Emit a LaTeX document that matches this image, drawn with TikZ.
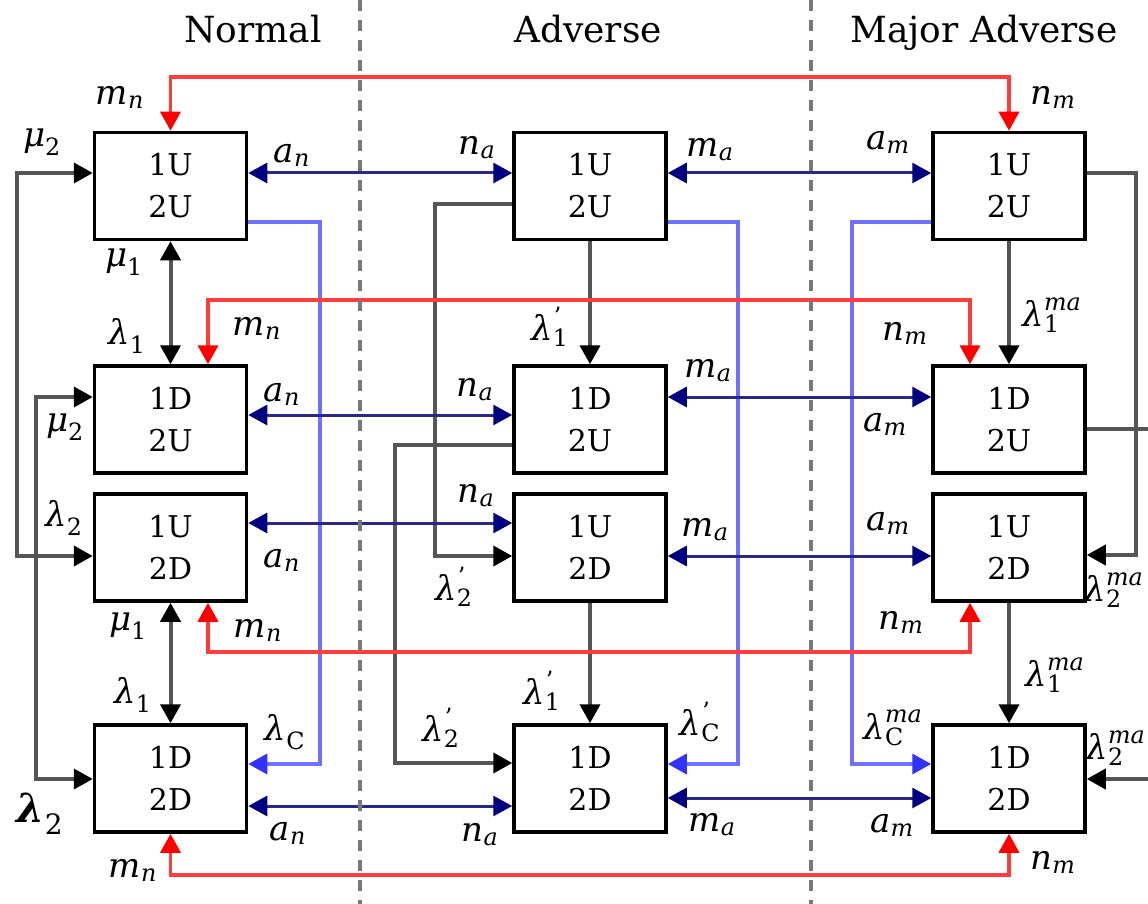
\documentclass[tikz,border=0pt]{standalone}
\usepackage{amsmath}
\usepackage{fontspec}
\setmainfont{DejaVu Serif}
\usetikzlibrary{arrows.meta}
\definecolor{cgray}{RGB}{85,85,85}
\definecolor{cnavy}{RGB}{40,40,140}
\definecolor{tnavy}{RGB}{0,0,128}
\definecolor{cred}{RGB}{255,60,60}
\definecolor{tred}{RGB}{255,0,0}
\definecolor{cblue}{RGB}{112,112,255}
\definecolor{tblue}{RGB}{50,50,255}
\definecolor{cdash}{RGB}{120,120,120}
\newcommand{\lsub}[2]{$\text{\itshape #1}_{\text{\itshape #2}}$}
\newcommand{\lsubu}[2]{$\text{\itshape #1}_{\text{#2}}$}
\newcommand{\lpr}[2]{$\text{\itshape #1}^{\text{\upshape\kern1pt'}}_{\text{#2}}$}
\newcommand{\lma}[2]{$\text{\itshape #1}^{\text{\itshape ma}}_{\text{#2}}$}
\tikzset{
  gt/.tip={Triangle[length=19pt,width=20pt,color=black]},
  nt/.tip={Triangle[length=19pt,width=20pt,color=tnavy]},
  rt/.tip={Triangle[length=19pt,width=20pt,color=tred]},
  bt/.tip={Triangle[length=19pt,width=20pt,color=tblue]},
  statebox/.style={draw, line width=3.5pt, minimum width=152pt, minimum height=107pt,
    inner sep=0pt, align=center, font=\fontsize{30}{42}\selectfont},
  lbl/.style={inner sep=0pt, font=\fontsize{34}{36}\selectfont},
  head/.style={inner sep=0pt, anchor=base, font=\fontsize{36}{40}\selectfont},
  gline/.style={draw=cgray, line width=4pt},
  nline/.style={draw=cnavy, line width=3pt},
  rline/.style={draw=cred, line width=3.5pt},
  bline/.style={draw=cblue, line width=3.5pt},
  dline/.style={draw=cdash, line width=3.5pt, dash pattern=on 11pt off 9pt},
}
\begin{document}
\begin{tikzpicture}[x=1pt,y=-1pt]
\useasboundingbox (0,0) rectangle (1148,904);
\fill[white] (0,0) rectangle (1148,904);
\clip (0,0) rectangle (1148,904);
% headers
\node[head] (hN) at (253,43) {Normal};
\node[head] (hA) at (588,43) {Adverse};
\node[head] (hM) at (984,43) {Major Adverse};
% boxes
\node[statebox] (b11) at (170.5,186) {1U\\2U};
\node[statebox] (b12) at (170.5,419.5) {1D\\2U};
\node[statebox] (b13) at (170.5,547.5) {1U\\2D};
\node[statebox] (b14) at (170.5,778.5) {1D\\2D};
\node[statebox] (b21) at (590,186) {1U\\2U};
\node[statebox] (b22) at (590,419.5) {1D\\2U};
\node[statebox] (b23) at (590,547.5) {1U\\2D};
\node[statebox] (b24) at (590,778.5) {1D\\2D};
\node[statebox] (b31) at (1009,186) {1U\\2U};
\node[statebox] (b32) at (1009,419.5) {1D\\2U};
\node[statebox] (b33) at (1009,547.5) {1U\\2D};
\node[statebox] (b34) at (1009,778.5) {1D\\2D};
% light blue
\draw[bline, -bt] (b11.east |- 0,222) -- (320,222) |- (b14.east |- 0,764);
\draw[bline, -bt] (b21.east |- 0,222) -- (738,222) |- (b24.east |- 0,764);
\draw[bline, -bt] (b31.west |- 0,222) -- (852,222) |- (b34.west |- 0,764);
% gray
\draw[gline, gt-gt] (b11.west |- 0,173) -- (17,173) -- (17,556) -- (b13.west |- 0,556);
\draw[gline, gt-gt] (b12.west |- 0,397) -- (36,397) -- (36,779) -- (b14.west |- 0,779);
\draw[gline, gt-gt] (b11.south) -- (b12.north);
\draw[gline, gt-gt] (b13.south) -- (b14.north);
\draw[gline, -gt] (b21.south) -- (b22.north);
\draw[gline, -gt] (b23.south) -- (b24.north);
\draw[gline, -gt] (b21.west |- 0,204) -- (435,204) |- (b23.west |- 0,556);
\draw[gline, -gt] (b22.west |- 0,445) -- (395,445) |- (b24.west |- 0,763);
\draw[gline, -gt] (b31.south) -- (b32.north);
\draw[gline, -gt] (b33.south) -- (b34.north);
\draw[gline, -gt] (b31.east |- 0,173) -- (1136,173) |- (b33.east |- 0,555);
\draw[gline, -gt] (b32.east |- 0,429) -- (1175,429) |- (b34.east |- 0,779);
% red
\draw[rline, rt-rt] (b11.north) -- (b11.north |- 0,77) -| (b31.north);
\draw[rline, rt-rt] (b12.north -| 208,0) -- (208,300) -| (b32.north -| 970,0);
\draw[rline, rt-rt] (b13.south -| 208,0) -- (208,652) -| (b33.south -| 970,0);
\draw[rline, rt-rt] (b14.south) -- (b14.south |- 0,875) -| (b34.south);
% navy
\draw[nline, nt-nt] (b11.east |- 0,173) -- (b21.west |- 0,173);
\draw[nline, nt-nt] (b21.east |- 0,173) -- (b31.west |- 0,173);
\draw[nline, nt-nt] (b12.east |- 0,415) -- (b22.west |- 0,415);
\draw[nline, nt-nt] (b22.east |- 0,397) -- (b32.west |- 0,397);
\draw[nline, nt-nt] (b13.east |- 0,523) -- (b23.west |- 0,523);
\draw[nline, nt-nt] (b23.east |- 0,556) -- (b33.west |- 0,556);
\draw[nline, nt-nt] (b14.east |- 0,806) -- (b24.west |- 0,806);
\draw[nline, nt-nt] (b24.east |- 0,798) -- (b34.west |- 0,798);
% dashed separators
\draw[dline] (360,0) coordinate (d1a) -- (360,904) coordinate (d1b);
\draw[dline] (811,0) coordinate (d2a) -- (811,904) coordinate (d2b);
% labels
\node[lbl] (l1) at (120,97) {\lsub{m}{n}};
\node[lbl] (l2) at (1053,97) {\lsub{n}{m}};
\node[lbl] (l3) at (42,142) {\lsubu{μ}{2}};
\node[lbl] (l4) at (292,155) {\lsub{a}{n}};
\node[lbl] (l5) at (477,148) {\lsub{n}{a}};
\node[lbl] (l6) at (710,150) {\lsub{m}{a}};
\node[lbl] (l7) at (888,142) {\lsub{a}{m}};
\node[lbl] (l8) at (124,262) {\lsubu{μ}{1}};
\node[lbl] (l9) at (127,336) {\lsubu{λ}{1}};
\node[lbl] (l10) at (257,328) {\lsub{m}{n}};
\node[lbl] (l11) at (550,327) {\lpr{λ}{1}};
\node[lbl] (l12) at (1052,315) {\lma{λ}{1}};
\node[lbl] (l13) at (905,333) {\lsub{n}{m}};
\node[lbl] (l14) at (282,394) {\lsub{a}{n}};
\node[lbl] (l15) at (475,390) {\lsub{n}{a}};
\node[lbl] (l16) at (708,371) {\lsub{m}{a}};
\node[lbl] (l17) at (885,424) {\lsub{a}{m}};
\node[lbl] (l18) at (65,427) {\lsubu{μ}{2}};
\node[lbl] (l19) at (64,518) {\lsubu{λ}{2}};
\node[lbl] (l20) at (476,496) {\lsub{n}{a}};
\node[lbl] (l21) at (705,530) {\lsub{m}{a}};
\node[lbl] (l22) at (888,523) {\lsub{a}{m}};
\node[lbl] (l23) at (282,560) {\lsub{a}{n}};
\node[lbl] (l24) at (454,587) {\lpr{λ}{2}};
\node[lbl] (l25) at (1114,590) {\lma{λ}{2}};
\node[lbl] (l26) at (128,626) {\lsubu{μ}{1}};
\node[lbl] (l27) at (258,630) {\lsub{m}{n}};
\node[lbl] (l28) at (901,622) {\lsub{n}{m}};
\node[lbl] (l29) at (133,695) {\lsubu{λ}{1}};
\node[lbl] (l30) at (542,691) {\lpr{λ}{1}};
\node[lbl] (l31) at (1055,675) {\lma{λ}{1}};
\node[lbl] (l32) at (285,732) {\lsubu{λ}{C}};
\node[lbl] (l33) at (441,728) {\lpr{λ}{2}};
\node[lbl] (l34) at (700,722) {\lpr{λ}{C}};
\node[lbl] (l35) at (893,728) {\lma{λ}{C}};
\node[lbl] (l36) at (1116,748) {\lma{λ}{2}};
\node[lbl, font=\fontsize{40}{44}\selectfont] (l37) at (40,814) {$\text{\bfseries\itshape λ}_{\text{2}}$};
\node[lbl] (l38) at (288,833) {\lsub{a}{n}};
\node[lbl] (l39) at (480,835) {\lsub{n}{a}};
\node[lbl] (l40) at (712,825) {\lsub{m}{a}};
\node[lbl] (l41) at (892,825) {\lsub{a}{m}};
\node[lbl] (l42) at (133,870) {\lsub{m}{n}};
\node[lbl] (l43) at (1053,862) {\lsub{n}{m}};
\end{tikzpicture}
\end{document}
